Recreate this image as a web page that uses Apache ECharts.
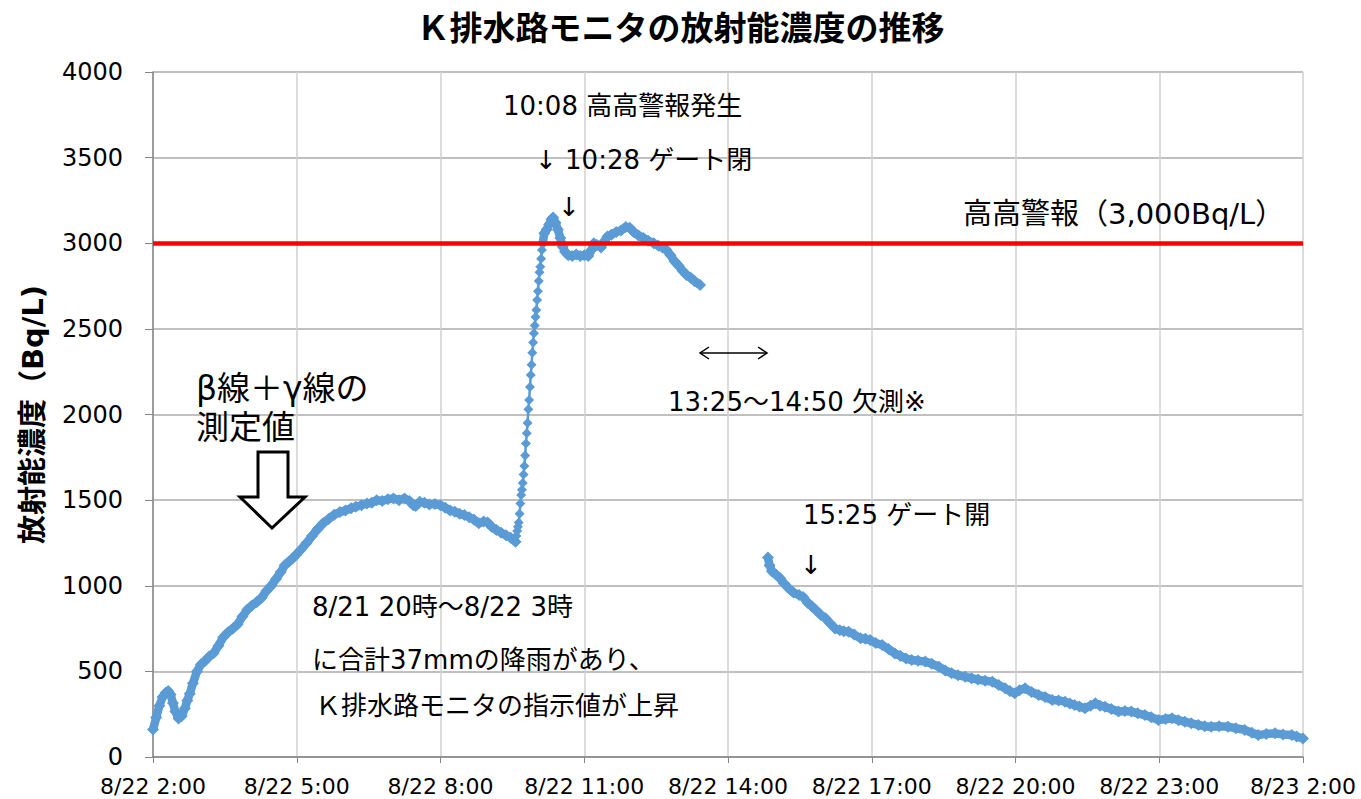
<!DOCTYPE html>
<html>
<head>
<meta charset="utf-8">
<script src="https://cdn.jsdelivr.net/npm/echarts@6/dist/echarts.min.js"></script>
<style>
  html, body { margin: 0; padding: 0; background: #ffffff; }
  #chart { width: 1361px; height: 799px; }
</style>
</head>
<body>
<div id="chart"></div>
<script>
// Axis tick labels (every 3 hours from 8/22 2:00)
const xTickLabels = ['8/22 2:00', '8/22 5:00', '8/22 8:00', '8/22 11:00', '8/22 14:00',
  '8/22 17:00', '8/22 20:00', '8/22 23:00', '8/23 2:00'];
const alarmLevel = 3000;

// Concentration (Bq/L), 8/22 02:00 - 09:34
const morningTimes = ['02:00','02:04','02:08','02:12','02:16','02:19','02:22','02:25','02:28','02:32','02:36','02:40','02:43','02:46','02:50','02:55',
  '03:00','03:05','03:10','03:16','03:22','03:28','03:34','03:40','03:46','03:52','03:58',
  '04:04','04:10','04:16','04:22','04:28','04:34','04:40','04:45','04:50','04:55','04:59',
  '05:05','05:12','05:19','05:26','05:33','05:40','05:47','05:54',
  '06:01','06:08','06:14','06:21','06:28','06:34','06:40','06:47','06:54',
  '07:01','07:08','07:15','07:21','07:26','07:29','07:34','07:40','07:46','07:53',
  '08:00','08:06','08:12','08:18','08:24','08:30','08:36','08:42','08:48','08:54','08:59',
  '09:04','09:10','09:16','09:22','09:28','09:34'];
const morningValues = [160,230,300,350,375,385,365,315,265,225,240,285,330,370,430,500,
  540,560,585,607,650,700,728,750,775,820,860,
  885,905,930,970,1000,1040,1080,1120,1140,1160,1180,
  1210,1248,1290,1330,1365,1390,1415,1430,
  1440,1452,1462,1470,1480,1485,1500,1495,1505,
  1510,1500,1510,1495,1470,1465,1490,1485,1475,1478,
  1470,1455,1440,1432,1420,1413,1400,1385,1365,1375,1370,
  1345,1326,1310,1295,1280,1257];

// Sharp rise, one reading per minute
const surgeTimes = ['09:34','09:35','09:36','09:37','09:38','09:39','09:40','09:41','09:42','09:43','09:44','09:45',
  '09:46','09:47','09:48','09:49','09:50','09:51','09:52','09:53','09:54','09:55','09:56','09:57','09:58','09:59',
  '10:00','10:01','10:02','10:03','10:04','10:05','10:06','10:07','10:08'];
const surgeValues = [1257,1290,1320,1345,1370,1420,1480,1530,1560,1600,1650,1700,
  1760,1830,1890,1950,2030,2085,2160,2230,2290,2360,2420,2474,2520,2570,
  2610,2669,2720,2780,2830,2863,2910,2960,3000];

// Around the alarm, until the monitor stopped at 13:25
const plateauTimes = ['10:08','10:10','10:13','10:16','10:19','10:21','10:24','10:27','10:30','10:33','10:36','10:40','10:45','10:50','10:55',
  '11:00','11:05','11:09','11:12','11:16','11:21','11:25','11:29','11:34','11:40','11:46','11:52','11:57',
  '12:02','12:08','12:14','12:20','12:27','12:33','12:38','12:43','12:48','12:53','12:58',
  '13:03','13:08','13:13','13:18','13:25'];
const plateauValues = [3000,3058,3080,3110,3140,3150,3120,3080,3030,2980,2950,2930,2925,2935,2925,
  2930,2925,2960,3000,2990,2975,3010,3040,3050,3065,3075,3095,3090,
  3065,3045,3030,3015,3000,2985,2975,2960,2930,2895,2870,
  2840,2815,2800,2780,2756];

// After measurement resumed at 14:50, through 8/23 02:00
const eveningTimes = ['14:50','14:52','14:55',
  '15:00','15:05','15:10','15:16','15:22','15:29','15:34','15:40','15:45','15:50','15:56',
  '16:02','16:08','16:14','16:20','16:25','16:31','16:38','16:46','16:52','16:58',
  '17:05','17:13','17:21','17:29','17:36','17:43','17:50','17:58',
  '18:07','18:15','18:24','18:32','18:40','18:48','18:57',
  '19:05','19:13','19:22','19:31','19:39','19:47','19:53','19:59',
  '20:05','20:12','20:20','20:29','20:37','20:46','20:54',
  '21:02','21:08','21:14','21:20','21:27','21:34','21:40','21:46','21:52',
  '22:00','22:09','22:17','22:25','22:33','22:42','22:50','22:59',
  '23:08','23:16','23:24','23:32','23:40','23:49','23:57',
  '00:05','00:15','00:26','00:36','00:47','00:56',
  '01:04','01:14','01:25','01:35','01:46','01:52','02:00'];
const eveningValues = [1165,1120,1085,
  1065,1045,1015,985,960,946,935,900,880,858,830,
  810,780,751,740,735,732,715,693,690,683,
  665,654,630,605,590,575,566,562,
  557,545,527,505,489,478,468,
  460,452,445,440,420,401,385,372,
  390,401,380,362,350,333,330,
  323,312,304,295,284,300,314,300,294,
  280,265,268,265,255,245,232,216,
  222,226,215,206,197,187,180,
  177,180,177,168,158,142,
  128,135,138,132,128,120,108];

// Minutes elapsed since 8/22 02:00; wraps past midnight
function toPairs(times, values) {
  const out = [];
  let prev = -Infinity;
  times.forEach((t, i) => {
    const [h, m] = t.split(':').map(Number);
    let mins = h * 60 + m - 120;
    while (mins < prev) mins += 1440;
    prev = mins;
    out.push([mins, values[i]]);
  });
  return out;
}

const BLUE = '#5b9bd5';
const LATIN_JP = '"DejaVu Sans", "Noto Sans CJK JP", sans-serif';

function bandSeries(data) {
  return {
    type: 'line', data, z: 2,
    symbol: 'diamond', symbolSize: 12,
    itemStyle: { color: BLUE },
    lineStyle: { color: BLUE, width: 8.5 },
    silent: true
  };
}

function note(text, x, y, size, extra) {
  return Object.assign({
    type: 'text', z: 10,
    style: {
      text, x, y,
      font: 'normal ' + size + 'px ' + LATIN_JP,
      fill: '#000',
      align: 'left', textAlign: 'left',
      verticalAlign: 'middle', textVerticalAlign: 'middle'
    }
  }, extra || {});
}

const chart = echarts.init(document.getElementById('chart'), null, { renderer: 'svg' });

chart.setOption({
  animation: false,
  backgroundColor: '#ffffff',
  title: {
    text: 'Ｋ排水路モニタの放射能濃度の推移',
    left: 'center', top: 4,
    textStyle: { fontFamily: '"Noto Sans CJK JP", sans-serif', fontWeight: 'bold', fontSize: 33, color: '#000' }
  },
  grid: { left: 153, right: 58, top: 72, bottom: 42 },
  xAxis: {
    type: 'value', min: 0, max: 1440, interval: 180,
    axisLine: { show: true, lineStyle: { color: '#868686', width: 1.5 } },
    axisTick: { show: true, length: 6, lineStyle: { color: '#868686' } },
    splitLine: { show: true, lineStyle: { color: '#d0d0d0', width: 1.5 } },
    axisLabel: {
      formatter: v => xTickLabels[Math.round(v / 180)] || '',
      margin: 18, fontSize: 22, fontFamily: '"DejaVu Sans", sans-serif', color: '#000'
    }
  },
  yAxis: {
    type: 'value', min: 0, max: 4000, interval: 500,
    name: '放射能濃度（Bq/L)', nameLocation: 'middle', nameRotate: 90, nameGap: 106,
    nameTextStyle: { fontFamily: LATIN_JP, fontWeight: 'bold', fontSize: 29, color: '#000' },
    axisLine: { show: true, lineStyle: { color: '#868686', width: 1.5 } },
    axisTick: { show: true, length: 8, lineStyle: { color: '#868686' } },
    splitLine: { show: true, lineStyle: { color: '#ababab', width: 1.5 } },
    axisLabel: {
      formatter: v => String(v),
      margin: 30, fontSize: 24, fontFamily: '"DejaVu Sans", sans-serif', color: '#000'
    }
  },
  series: [
    bandSeries(toPairs(morningTimes, morningValues)),
    {
      type: 'line', data: toPairs(surgeTimes, surgeValues), z: 2,
      symbol: 'diamond', symbolSize: 10,
      itemStyle: { color: BLUE },
      lineStyle: { color: BLUE, width: 2.5 },
      silent: true
    },
    bandSeries(toPairs(plateauTimes, plateauValues)),
    bandSeries(toPairs(eveningTimes, eveningValues)),
    {
      type: 'line', data: [], z: 5, silent: true,
      markLine: {
        silent: true, symbol: ['none', 'none'], label: { show: false },
        lineStyle: { color: '#ff0000', width: 4.5, type: 'solid' },
        data: [{ yAxis: alarmLevel }]
      }
    }
  ],
  graphic: [
    note('10:08 高高警報発生', 503, 106, 26),
    note('↓ 10:28 ゲート閉', 535, 160, 26),
    note('↓', 558, 207, 26),
    note('高高警報（3,000Bq/L）', 963, 214, 29),
    note('13:25～14:50 欠測※', 668, 402, 26),
    note('β線＋γ線の', 196, 388, 33),
    note('測定値', 196, 427, 33),
    note('15:25 ゲート開', 803, 515, 26),
    note('↓', 800, 565, 26),
    note('8/21 20時～8/22 3時', 312, 607, 26),
    note('に合計37mmの降雨があり、', 312, 660, 26),
    note('Ｋ排水路モニタの指示値が上昇', 315, 706, 26),
    // double-headed arrow across the missing interval
    { type: 'polyline', z: 10, shape: { points: [[700, 353], [767, 353]] }, style: { stroke: '#000', lineWidth: 1.5, fill: null } },
    { type: 'polyline', z: 10, shape: { points: [[709, 347], [700, 353], [709, 359]] }, style: { stroke: '#000', lineWidth: 1.5, fill: null } },
    { type: 'polyline', z: 10, shape: { points: [[758, 347], [767, 353], [758, 359]] }, style: { stroke: '#000', lineWidth: 1.5, fill: null } },
    // hollow block arrow pointing at the curve
    {
      type: 'polygon', z: 10,
      shape: { points: [[258, 452], [288, 452], [288, 497], [305, 497], [272, 528], [240, 497], [258, 497]] },
      style: { fill: '#ffffff', stroke: '#000', lineWidth: 3 }
    }
  ]
});
</script>
</body>
</html>
